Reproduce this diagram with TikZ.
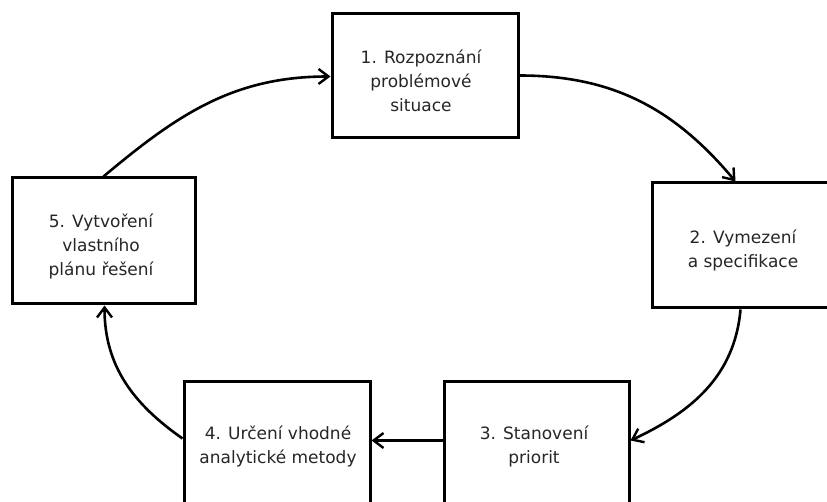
\documentclass[tikz,border=0pt]{standalone}
\usepackage{fontspec}
\setmainfont{DejaVu Sans}
\usetikzlibrary{arrows.meta,calc}
\tikzset{
  box/.style={draw=black, line width=3pt, rectangle, inner sep=0pt},
  lbl/.style={align=center, text=black!85, font=\fontsize{17}{24}\selectfont, inner sep=0pt},
  arr/.style={draw=black, line width=2.6pt,
    -{Straight Barb[length=10pt,width=15pt,line width=2.4pt]}},
}
\begin{document}
\begin{tikzpicture}[x=1pt,y=-1pt]
  \fill[white] (0,0) rectangle (827,502);
  \clip (0,0) rectangle (827,502);
  % boxes of the cycle
  \node[box, minimum width=186pt, minimum height=124pt] (b1) at (425,76) {};
  \node[box, minimum width=190pt, minimum height=125pt] (b2) at (747,245.5) {};
  \node[box, minimum width=185pt, minimum height=140pt] (b3) at (536.5,451) {};
  \node[box, minimum width=186pt, minimum height=140pt] (b4) at (277,451) {};
  \node[box, minimum width=183pt, minimum height=126pt] (b5) at (103.5,241) {};
  % texts
  \node[lbl] (t1) at (421,81) {1. Rozpoznání\\problémové\\situace};
  \node[lbl] (t2) at (743,250) {2. Vymezení\\a specifikace};
  \node[lbl] (t3) at (534,446) {3. Stanovení\\priorit};
  \node[lbl] (t4) at (278,446) {4. Určení vhodné\\analytické metody};
  \node[lbl] (t5) at (101,246) {5. Vytvoření\\vlastního\\plánu řešení};
  % attachment points of the connectors
  \coordinate (b1in)  at ($(b1.north west)+(0,64)$);
  \coordinate (b1out) at ($(b1.north east)+(0,63)$);
  \coordinate (b2in)  at ($(b2.north west)+(85,0)$);
  \coordinate (b2out) at ($(b2.south west)+(90,0)$);
  \coordinate (b3in)  at ($(b3.north east)+(0,61)$);
  \coordinate (b3out) at ($(b3.north west)+(0,61)$);
  \coordinate (b4in)  at ($(b4.north east)+(0,61)$);
  \coordinate (b4out) at ($(b4.north west)+(0,59)$);
  \coordinate (b5in)  at ($(b5.south west)+(94,0)$);
  \coordinate (b5out) at ($(b5.north west)+(93,0)$);
  % connectors
  \draw[arr] (b1out) to[out=0,in=130] (b2in);
  \draw[arr] (b2out) to[out=-95,in=25] (b3in);
  \draw[arr] (b3out) -- (b4in);
  \draw[arr] (b4out) to[out=145,in=-90] (b5in);
  \draw[arr] (b5out) to[out=40,in=180] (b1in);
\end{tikzpicture}
\end{document}
